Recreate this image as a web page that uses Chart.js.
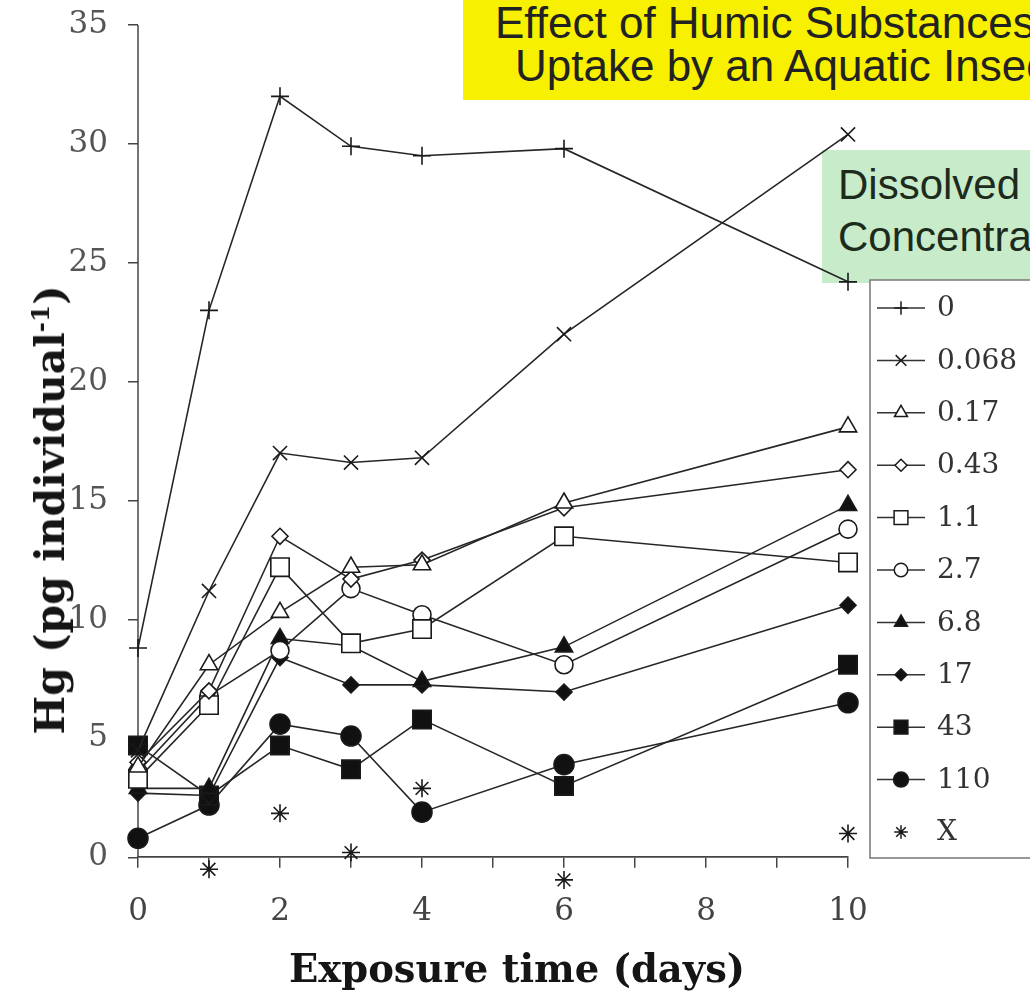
<!DOCTYPE html>
<html>
<head>
<meta charset="utf-8">
<script src="https://cdn.jsdelivr.net/npm/chart.js@4.4.0/dist/chart.umd.min.js"></script>
<style>
  html, body { margin: 0; padding: 0; background: #fff; width: 1030px; height: 995px; overflow: hidden; }
  #wrap { position: relative; width: 1030px; height: 995px; }
  #wrap canvas { position: absolute; left: 0; top: 0; z-index: 2; }
  .box { position: absolute; z-index: 1; }
  .line { position: absolute; white-space: nowrap; font-family: "Liberation Sans", Arial, sans-serif; }
  #yellow { left: 463px; top: -10px; width: 700px; height: 110px; background: #f7f000; }
  #green { left: 822px; top: 150px; width: 400px; height: 133px; background: #c8ebc9; }
  .axt { position: absolute; z-index: 3; white-space: nowrap; font-family: "DejaVu Serif", serif; font-weight: bold; color: #151515; }
  #ytitle { left: 50px; top: 510px; font-size: 41px; transform: translate(-50%, -50%) rotate(-90deg); }
  #xtitle { left: 517px; top: 968px; font-size: 38.5px; transform: translate(-50%, -50%); }
</style>
</head>
<body>
<div id="wrap">
  <div class="box" id="yellow">
    <div class="line" style="left:32px;top:11px;font-size:44px;line-height:44px;color:#222;">Effect of Humic Substances on Hg</div>
    <div class="line" style="left:52px;top:54px;font-size:44px;line-height:44px;color:#222;">Uptake by an Aquatic Insect</div>
  </div>
  <div class="box" id="green">
    <div class="line" style="left:16px;top:14px;font-size:42px;line-height:42px;color:#1d2b1d;">Dissolved Organic Carbon</div>
    <div class="line" style="left:16px;top:66px;font-size:42px;line-height:42px;color:#1d2b1d;">Concentration</div>
  </div>
  <div class="axt" id="ytitle">Hg (pg individual<sup style="font-size:0.6em">-1</sup>)</div>
  <div class="axt" id="xtitle">Exposure time (days)</div>
  <canvas id="chart" width="1030" height="995"></canvas>
</div>
<script>
// exposure time (days)
const days = [0, 1, 2, 3, 4, 6, 10];

// Hg (pg per individual) for each dissolved organic carbon level
const doc0     = [8.8, 23.0, 32.0, 29.9, 29.5, 29.8, 24.2];
const doc0068  = [4.5, 11.2, 17.0, 16.6, 16.8, 22.0, 30.4];
const doc017   = [3.8, 8.1, 10.3, 12.2, 12.3, 14.9, 18.1];
const doc043   = [4.0, 7.0, 13.5, 11.7, 12.5, 14.7, 16.3];
const doc11    = [3.3, 6.4, 12.2, 9.0, 9.6, 13.5, 12.4];
const doc27    = [3.6, 6.8, 8.7, 11.3, 10.2, 8.1, 13.8];
const doc68    = [2.9, 2.9, 9.2, 8.9, 7.4, 8.85, 14.8];
const doc17    = [2.7, 2.6, 8.4, 7.25, 7.25, 6.95, 10.6];
const doc43    = [4.7, 2.6, 4.7, 3.7, 5.8, 3.0, 8.1];
const doc110   = [0.8, 2.2, 5.6, 5.1, 1.9, 3.9, 6.5];
const docX     = [null, -0.5, 1.85, 0.2, 2.9, -0.95, 1.0];

const seriesLabels = ["0", "0.068", "0.17", "0.43", "1.1", "2.7", "6.8", "17", "43", "110", "X"];
const seriesValues = [doc0, doc0068, doc017, doc043, doc11, doc27, doc68, doc17, doc43, doc110, docX];

const yTicks = [0, 5, 10, 15, 20, 25, 30, 35];
const xTicks = [0, 1, 2, 3, 4, 5, 6, 7, 8, 9, 10];
const xTickLabels = [0, 2, 4, 6, 8, 10];

const ink = "#1a1a1a";
const markers = [
  { style: "cross",    r: 9,  fill: "#fff" },
  { style: "crossRot", r: 10, fill: "#fff" },
  { style: "triangle", r: 10, fill: "#fff" },
  { style: "rectRot",  r: 8,  fill: "#fff" },
  { style: "rect",     r: 13, fill: "#fff" },
  { style: "circle",   r: 9,  fill: "#fff" },
  { style: "triangle", r: 10, fill: "#111" },
  { style: "rectRot",  r: 8,  fill: "#111" },
  { style: "rect",     r: 13, fill: "#111" },
  { style: "circle",   r: 10, fill: "#111" },
  { style: "star",     r: 9,  fill: "#fff" }
];

const datasets = seriesLabels.map((lab, i) => ({
  label: lab,
  data: days.map((d, k) => ({ x: d, y: seriesValues[i][k] })),
  showLine: lab !== "X",
  borderColor: "#262626",
  borderWidth: 1.6,
  pointStyle: markers[i].style,
  pointRadius: markers[i].r,
  pointHoverRadius: markers[i].r,
  pointBackgroundColor: markers[i].fill,
  pointBorderColor: ink,
  pointBorderWidth: 1.6,
  tension: 0,
  spanGaps: false,
  clip: false
}));

const extras = {
  id: "extras",
  beforeDatasetsDraw(chart) {
    const { ctx, scales: { x, y } } = chart;
    ctx.save();
    ctx.strokeStyle = "#444";
    ctx.lineWidth = 1.5;
    ctx.beginPath();
    ctx.moveTo(x.getPixelForValue(0), y.getPixelForValue(35));
    ctx.lineTo(x.getPixelForValue(0), y.getPixelForValue(0));
    ctx.stroke();
    ctx.restore();
  },
  afterDraw(chart) {
    const ctx = chart.ctx;
    ctx.save();
    ctx.fillStyle = "#fff";
    ctx.strokeStyle = "#777";
    ctx.lineWidth = 1.5;
    ctx.fillRect(870, 280, 200, 578);
    ctx.strokeRect(870, 280, 200, 578);
    chart.data.datasets.forEach((ds, i) => {
      const yy = 308 + i * 52.4;
      if (ds.showLine) {
        ctx.strokeStyle = "#333";
        ctx.lineWidth = 1.5;
        ctx.beginPath();
        ctx.moveTo(877, yy);
        ctx.lineTo(925, yy);
        ctx.stroke();
      }
      ctx.fillStyle = markers[i].fill;
      ctx.strokeStyle = ink;
      ctx.lineWidth = 1.5;
      Chart.helpers.drawPoint(ctx, { pointStyle: markers[i].style, rotation: 0, radius: markers[i].r * 0.75, borderWidth: 1.5 }, 901, yy);
      ctx.fillStyle = "#333";
      ctx.font = "28px 'DejaVu Serif', serif";
      ctx.textBaseline = "middle";
      ctx.textAlign = "left";
      ctx.fillText(ds.label, 937, yy + 1);
    });
    ctx.restore();
  }
};

new Chart(document.getElementById("chart"), {
  type: "scatter",
  data: { datasets },
  plugins: [extras],
  options: {
    responsive: false,
    animation: false,
    layout: { padding: { left: 0, top: 25, right: 182, bottom: 102 } },
    plugins: { legend: { display: false }, tooltip: { enabled: false } },
    scales: {
      x: {
        type: "linear",
        position: { y: 0 },
        min: 0,
        max: 10,
        afterBuildTicks: s => { s.ticks = xTicks.map(v => ({ value: v })); },
        afterFit: s => { s.paddingTop = 0; s.paddingBottom = 0; },
        ticks: {
          autoSkip: false,
          maxRotation: 0,
          padding: 26,
          color: "#444",
          font: { family: "'DejaVu Serif', serif", size: 31 },
          callback: v => xTickLabels.includes(v) ? String(v) : ""
        },
        grid: { drawOnChartArea: false, tickLength: 10, color: "#444", lineWidth: 1.5 },
        border: { display: true, color: "#444", width: 1.8 }
      },
      y: {
        type: "linear",
        min: -1.5,
        max: 35,
        afterBuildTicks: s => { s.ticks = yTicks.map(v => ({ value: v })); },
        afterFit: s => { s.width = 138; s.paddingTop = 0; s.paddingBottom = 0; },
        ticks: {
          padding: 20,
          color: "#555",
          font: { family: "'DejaVu Serif', serif", size: 31 }
        },
        grid: { drawOnChartArea: false, tickLength: 10, color: "#444", lineWidth: 1.5 },
        border: { display: false }
      }
    }
  }
});
</script>
</body>
</html>
